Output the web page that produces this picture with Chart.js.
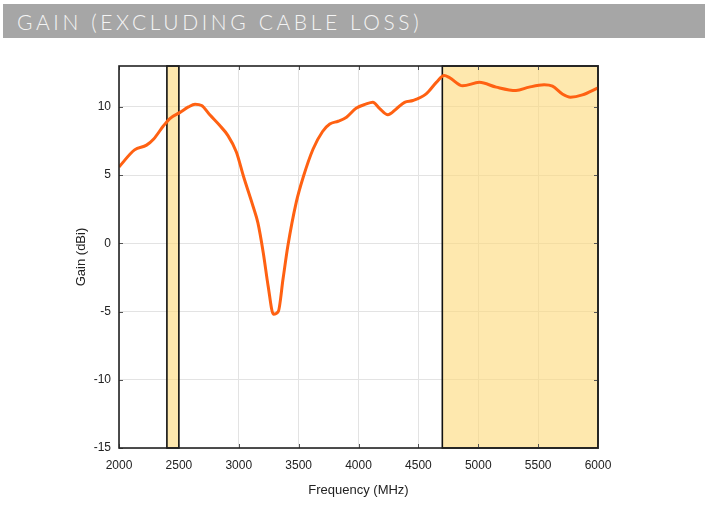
<!DOCTYPE html>
<html>
<head>
<meta charset="utf-8">
<script src="https://cdn.jsdelivr.net/npm/chart.js@4/dist/chart.umd.min.js"></script>
<style>
  html, body { margin: 0; padding: 0; background: #fff; }
  #wrap { position: relative; width: 705px; height: 509px; overflow: hidden; }
  #bar {
    position: absolute; left: 3px; top: 4px; width: 702px; height: 34px;
    background: #a6a6a6;
  }
  #bar span {
    position: absolute; left: 14px; top: 5px;
    font-family: "Lato", "DejaVu Sans", sans-serif; font-weight: 300;
    font-size: 21px; letter-spacing: 3.6px; color: #f4f4f4; white-space: nowrap;
  }
  #c { position: absolute; left: 0; top: 0; }
</style>
</head>
<body>
<div id="wrap">
  <div id="bar"><span>GAIN (EXCLUDING CABLE LOSS)</span></div>
  <canvas id="c" width="705" height="509"></canvas>
</div>
<script>
const freqMHz = [2000, 2130, 2230, 2290, 2370, 2425, 2510, 2580, 2635, 2690,
                 2760, 2840, 2910, 2980, 3040, 3120, 3160, 3205, 3245, 3290,
                 3330, 3370, 3410, 3480, 3540, 3620, 3700, 3760, 3830, 3900,
                 3980, 4060, 4120, 4175, 4245, 4315, 4385, 4455, 4565, 4650,
                 4715, 4760, 4870, 5010, 5150, 5315, 5425, 5550, 5620, 5700,
                 5770, 5870, 6000];
const gainDBi = [5.6, 6.85, 7.2, 7.65, 8.6, 9.15, 9.6, 10.0, 10.2, 10.1,
                 9.4, 8.65, 7.9, 6.7, 4.9, 2.7, 1.5, -0.7, -3.1, -5.2,
                 -5.0, -2.6, -0.2, 3.0, 4.9, 6.9, 8.2, 8.75, 8.95, 9.25,
                 9.9, 10.2, 10.34, 9.9, 9.43, 9.85, 10.34, 10.47, 10.96, 11.8,
                 12.3, 12.15, 11.55, 11.8, 11.45, 11.2, 11.45, 11.62, 11.52, 10.96,
                 10.71, 10.88, 11.4];

// Bandas resaltadas (MHz)
const bandStart = [2400, 4700];
const bandEnd   = [2500, 6000];

const xTicks = [2000, 2500, 3000, 3500, 4000, 4500, 5000, 5500, 6000];
const yTicks = [-15, -10, -5, 0, 5, 10];

// Dibuja las bandas y el marco del área de trazado
const bandsPlugin = {
  id: 'bands',
  beforeDatasetsDraw(chart) {
    const { ctx, chartArea: a, scales: { x } } = chart;
    ctx.save();
    for (let i = 0; i < bandStart.length; i++) {
      const x0 = x.getPixelForValue(bandStart[i]);
      const x1 = x.getPixelForValue(bandEnd[i]);
      ctx.fillStyle = 'rgba(253, 216, 120, 0.6)';
      ctx.fillRect(x0, a.top, x1 - x0, a.bottom - a.top);
      ctx.strokeStyle = '#111';
      ctx.lineWidth = 1.6;
      ctx.strokeRect(x0, a.top, x1 - x0, a.bottom - a.top);
    }
    ctx.restore();
  },
  afterDatasetsDraw(chart) {
    const { ctx, chartArea: a, scales: { x, y } } = chart;
    ctx.save();
    ctx.strokeStyle = '#555';
    ctx.lineWidth = 1;
    xTicks.forEach(v => {
      const px = Math.round(x.getPixelForValue(v)) + 0.5;
      ctx.beginPath();
      ctx.moveTo(px, a.top); ctx.lineTo(px, a.top + 4);
      ctx.moveTo(px, a.bottom); ctx.lineTo(px, a.bottom - 4);
      ctx.stroke();
    });
    yTicks.forEach(v => {
      const py = Math.round(y.getPixelForValue(v)) + 0.5;
      ctx.beginPath();
      ctx.moveTo(a.left, py); ctx.lineTo(a.left + 4, py);
      ctx.moveTo(a.right, py); ctx.lineTo(a.right - 4, py);
      ctx.stroke();
    });
    ctx.strokeStyle = '#222';
    ctx.lineWidth = 1.6;
    ctx.strokeRect(a.left, a.top, a.right - a.left, a.bottom - a.top);
    ctx.restore();
  }
};

const tickFont = { family: 'Liberation Sans, Arial', size: 12 };

new Chart(document.getElementById('c'), {
  type: 'scatter',
  data: {
    datasets: [{
      data: freqMHz.map((f, i) => ({ x: f, y: gainDBi[i] })),
      showLine: true,
      borderColor: '#ff6112',
      borderWidth: 3,
      pointRadius: 0,
      cubicInterpolationMode: 'monotone',
      fill: false
    }]
  },
  plugins: [bandsPlugin],
  options: {
    responsive: false,
    animation: false,
    layout: { padding: { top: 66, right: 107, left: 70, bottom: 0 } },
    plugins: { legend: { display: false }, tooltip: { enabled: false } },
    scales: {
      x: {
        type: 'linear', min: 2000, max: 6000,
        afterBuildTicks: s => { s.ticks = xTicks.map(v => ({ value: v })); },
        afterFit: s => { s.height = 61; },
        grid: { color: '#e3e3e3', drawTicks: false },
        border: { display: false },
        ticks: { padding: 10, color: '#222', font: tickFont, callback: v => String(v) },
        title: { display: true, text: 'Frequency (MHz)', color: '#222', padding: { top: 4, bottom: 11 },
                 font: { family: 'Liberation Sans, Arial', size: 13 } }
      },
      y: {
        min: -15, max: 13,
        afterBuildTicks: s => { s.ticks = yTicks.map(v => ({ value: v })); },
        afterFit: s => { s.width = 49; },
        grid: { color: '#e3e3e3', drawTicks: false },
        border: { display: false },
        ticks: { padding: 8, color: '#222', font: tickFont, callback: v => String(v) },
        title: { display: true, text: 'Gain (dBi)', color: '#222', padding: { bottom: 4 },
                 font: { family: 'Liberation Sans, Arial', size: 13 } }
      }
    }
  }
});
</script>
</body>
</html>
